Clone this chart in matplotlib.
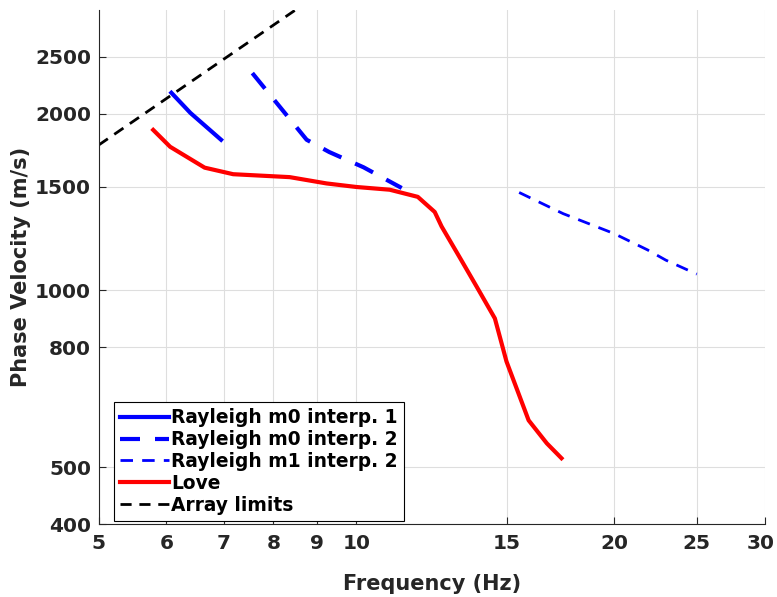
import matplotlib
matplotlib.use("Agg")
import matplotlib.pyplot as plt
import matplotlib.transforms as mtransforms
import numpy as np

# dispersion curves (frequency in Hz, velocity in m/s)
ray_m0_i1_f = [6.08, 6.40, 6.95]
ray_m0_i1_v = [2170, 2005, 1805]

ray_m0_i2_f = [7.56, 8.75, 9.30, 10.2, 11.3]
ray_m0_i2_v = [2344, 1805, 1720, 1620, 1494]

ray_m1_i2_f = [15.5, 17.45, 20.0, 21.9, 23.0, 25.0]
ray_m1_i2_v = [1468, 1351, 1250, 1172, 1126, 1066]

love_f = [5.79, 6.06, 6.65, 7.18, 8.36, 9.23, 10.0, 10.94, 11.8, 12.35,
          12.58, 13.2, 13.83, 14.52, 14.98, 15.9, 16.7, 17.37]
love_v = [1876, 1756, 1618, 1577, 1559, 1521, 1500, 1484, 1443, 1360,
          1285, 1140, 1014, 896, 757, 601, 549, 518]

limit_f = [5.0, 10.0]
limit_v = [1768, 3536]

xticks = [5, 6, 7, 8, 9, 10, 15, 20, 25, 30]
yticks = [400, 500, 800, 1000, 1500, 2000, 2500]

txt = '#262626'
plt.rcParams['font.family'] = 'DejaVu Sans'
plt.rcParams['font.weight'] = 'bold'

fig = plt.figure(figsize=(7.77, 5.97), dpi=100)
ax = fig.add_axes([0.127, 0.122, 0.857, 0.861])

ax.plot(ray_m0_i1_f, ray_m0_i1_v, color='#0000ff', lw=3, label='Rayleigh m0 interp. 1')
ax.plot(ray_m0_i2_f, ray_m0_i2_v, color='#0000ff', lw=3, dashes=(4.8, 3.6),
        label='Rayleigh m0 interp. 2')
ax.plot(ray_m1_i2_f, ray_m1_i2_v, color='#0000ff', lw=2, dashes=(4.5, 3.3),
        label='Rayleigh m1 interp. 2')
ax.plot(love_f, love_v, color='#ff0000', lw=3, label='Love')
ax.plot(limit_f, limit_v, color='black', lw=2, dashes=(4, 2.8), label='Array limits')

ax.set_xscale('log')
ax.set_yscale('log')
ax.set_xlim(5, 30)
ax.set_ylim(400, 3000)
ax.set_xticks(xticks)
ax.set_xticklabels([str(t) for t in xticks])
ax.set_yticks(yticks)
ax.set_yticklabels([str(t) for t in yticks])
ax.minorticks_off()

ax.tick_params(direction='in', length=5, width=0.8, colors=txt, labelsize=14.5,
               top=False, right=False)
ax.tick_params(axis='x', pad=7)
ax.tick_params(axis='y', pad=5.5)
for lab in ax.get_xticklabels() + ax.get_yticklabels():
    lab.set_fontweight('bold')

# keep the last x label inside the figure, as in the original
last = ax.get_xticklabels()[-1]
last.set_transform(last.get_transform() +
                   mtransforms.ScaledTranslation(-4 / 100, 0, fig.dpi_scale_trans))

ax.grid(True, color='#dedede', lw=0.8)
ax.set_axisbelow(True)
for s in ['top', 'right']:
    ax.spines[s].set_visible(False)
for s in ['left', 'bottom']:
    ax.spines[s].set_color(txt)
    ax.spines[s].set_linewidth(0.8)

ax.set_xlabel('Frequency (Hz)', fontsize=15, fontweight='bold', color=txt, labelpad=15)
ax.set_ylabel('Phase Velocity (m/s)', fontsize=15, fontweight='bold', color=txt, labelpad=3)

leg = ax.legend(loc='lower left', bbox_to_anchor=(0.0225, 0.006), borderaxespad=0,
                fontsize=13.4, handlelength=2.63, handletextpad=0.12, labelspacing=0.15,
                fancybox=False, framealpha=1, edgecolor='black', borderpad=0.35)
leg.get_frame().set_linewidth(0.8)
for t in leg.get_texts():
    t.set_fontweight('bold')

fig.savefig('out.png', dpi=100)
